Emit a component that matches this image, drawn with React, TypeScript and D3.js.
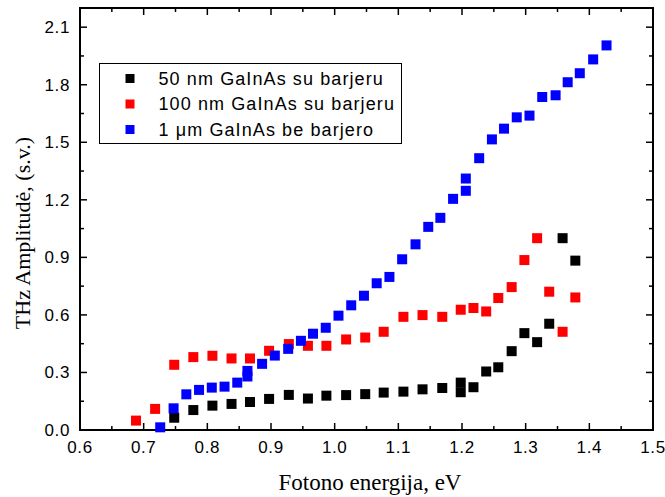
import React from "react";
import * as d3 from "d3";

const blackX = [0.748, 0.778, 0.808, 0.838, 0.867, 0.897, 0.928, 0.958, 0.987, 1.018, 1.048, 1.077, 1.108, 1.138, 1.169, 1.198, 1.198, 1.218, 1.238, 1.257, 1.278, 1.298, 1.318, 1.337, 1.358, 1.378];
const blackY = [0.064, 0.104, 0.127, 0.136, 0.146, 0.162, 0.183, 0.164, 0.179, 0.182, 0.187, 0.195, 0.200, 0.212, 0.219, 0.247, 0.197, 0.223, 0.305, 0.327, 0.411, 0.505, 0.458, 0.554, 1.0, 0.883];

const redX = [0.688, 0.718, 0.748, 0.778, 0.808, 0.838, 0.867, 0.897, 0.928, 0.958, 0.987, 1.018, 1.048, 1.077, 1.108, 1.138, 1.169, 1.198, 1.218, 1.238, 1.257, 1.278, 1.298, 1.318, 1.337, 1.358, 1.378];
const redY = [0.049, 0.110, 0.340, 0.380, 0.387, 0.373, 0.373, 0.413, 0.448, 0.439, 0.439, 0.472, 0.482, 0.512, 0.590, 0.599, 0.590, 0.627, 0.636, 0.618, 0.688, 0.745, 0.886, 1.0, 0.721, 0.512, 0.691];

const blueX = [0.726, 0.747, 0.767, 0.787, 0.807, 0.827, 0.847, 0.863, 0.863, 0.886, 0.906, 0.927, 0.947, 0.966, 0.986, 1.006, 1.026, 1.046, 1.066, 1.086, 1.106, 1.127, 1.147, 1.166, 1.186, 1.206, 1.206, 1.227, 1.247, 1.266, 1.286, 1.306, 1.326, 1.347, 1.366, 1.385, 1.406, 1.427];
const blueY = [0.014, 0.113, 0.186, 0.209, 0.221, 0.226, 0.247, 0.279, 0.308, 0.345, 0.388, 0.423, 0.465, 0.502, 0.533, 0.596, 0.650, 0.700, 0.765, 0.798, 0.890, 0.968, 1.059, 1.106, 1.205, 1.247, 1.311, 1.417, 1.515, 1.571, 1.630, 1.639, 1.736, 1.745, 1.813, 1.860, 1.932, 2.005];

const seriesNames = ["50 nm GaInAs su barjeru", "100 nm GaInAs su barjeru", "1 \u03bcm GaInAs be barjero"];
const seriesColors = ["#000000", "#ff0000", "#0000ff"];

const xMajor = [0.6, 0.7, 0.8, 0.9, 1.0, 1.1, 1.2, 1.3, 1.4, 1.5];
const yMajor = [0.0, 0.3, 0.6, 0.9, 1.2, 1.5, 1.8, 2.1];

const W = 665, H = 497;
const L = 80, R = 653, T = 8, B = 430;

export default function App() {
  const x = d3.scaleLinear().domain([0.6, 1.5]).range([L, R]);
  const y = d3.scaleLinear().domain([0, 2.2]).range([B, T]);
  const xMinor = d3.range(0.65, 1.5, 0.1);
  const yMinor = d3.range(0.15, 2.2, 0.3);
  const series = [
    { xs: blackX, ys: blackY },
    { xs: redX, ys: redY },
    { xs: blueX, ys: blueY },
  ];
  const ms = 10;
  const fmt = d3.format(".1f");
  const tickW = 1.5;
  return (
    <svg width={W} height={H} style={{ position: "absolute", left: 0, top: 0, background: "#fff" }}>
      <rect x={0} y={0} width={W} height={H} fill="#fff" />
      {/* ticks */}
      <g stroke="#000" strokeWidth={tickW}>
        {xMajor.map((v, i) => (
          <g key={"xm" + i}>
            <line x1={x(v)} x2={x(v)} y1={B} y2={B - 7} />
            <line x1={x(v)} x2={x(v)} y1={T} y2={T + 7} />
          </g>
        ))}
        {xMinor.map((v, i) => (
          <g key={"xn" + i}>
            <line x1={x(v)} x2={x(v)} y1={B} y2={B - 4} />
            <line x1={x(v)} x2={x(v)} y1={T} y2={T + 4} />
          </g>
        ))}
        {yMajor.map((v, i) => (
          <g key={"ym" + i}>
            <line x1={L} x2={L + 7} y1={y(v)} y2={y(v)} />
            <line x1={R} x2={R - 7} y1={y(v)} y2={y(v)} />
          </g>
        ))}
        {yMinor.map((v, i) => (
          <g key={"yn" + i}>
            <line x1={L} x2={L + 4} y1={y(v)} y2={y(v)} />
            <line x1={R} x2={R - 4} y1={y(v)} y2={y(v)} />
          </g>
        ))}
      </g>
      <rect x={L} y={T} width={R - L} height={B - T} fill="none" stroke="#000" strokeWidth={2} />
      {/* tick labels */}
      <g fontFamily="'Liberation Sans', Arial, sans-serif" fontSize={17} fill="#000" letterSpacing={0.6}>
        {xMajor.map((v, i) => (
          <text key={"xl" + i} x={x(v)} y={453} textAnchor="middle">{fmt(v)}</text>
        ))}
        {yMajor.map((v, i) => (
          <text key={"yl" + i} x={70} y={y(v) + 6} textAnchor="end">{fmt(v)}</text>
        ))}
      </g>
      {/* axis titles */}
      <text x={370} y={490} textAnchor="middle" fontFamily="'Liberation Serif', 'Times New Roman', serif" fontSize={23} fill="#000">Fotono energija, eV</text>
      <text transform={`translate(30,233) rotate(-90)`} textAnchor="middle" fontFamily="'Liberation Serif', 'Times New Roman', serif" fontSize={22} fill="#000">THz Amplitudė, (s.v.)</text>
      {/* data */}
      {series.map((s, si) => (
        <g key={"s" + si} fill={seriesColors[si]}>
          {s.xs.map((xv, i) => (
            <rect key={i} x={x(xv) - ms / 2} y={y(s.ys[i]) - ms / 2} width={ms} height={ms} />
          ))}
        </g>
      ))}
      {/* legend */}
      <rect x={99.5} y={63.5} width={302} height={80} fill="#fff" stroke="#000" strokeWidth={1} />
      {seriesNames.map((n, i) => (
        <g key={"lg" + i}>
          <rect x={130 - 4.5} y={78.5 + i * 25.5 - 4.5} width={9} height={9} fill={seriesColors[i]} />
          <text x={158.5} y={84.5 + i * 25.5} fontFamily="'Liberation Sans', Arial, sans-serif" fontSize={18} letterSpacing={1.1} fill="#000">{n}</text>
        </g>
      ))}
    </svg>
  );
}
